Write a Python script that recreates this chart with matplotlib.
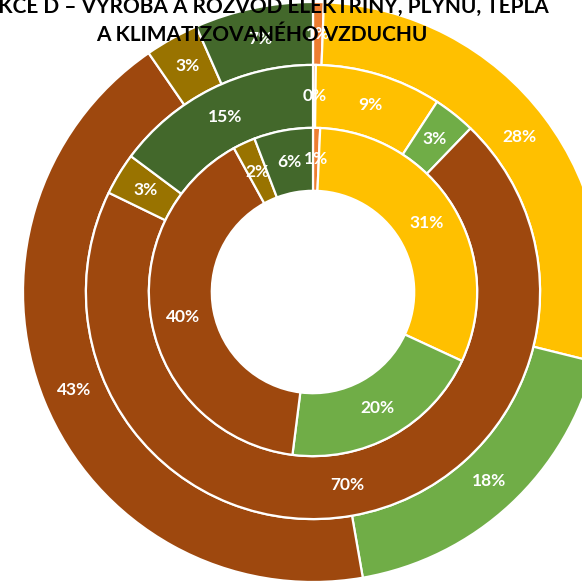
import matplotlib.pyplot as plt
import numpy as np

# categories (same order in every ring, clockwise from 12 o'clock)
categories = ['oranžová', 'žlutá', 'zelená', 'hnědá', 'olivová', 'tmavě zelená']
colors = ['#ED7D31', '#FFC000', '#70AD47', '#9E480E', '#997300', '#43682B']

# share in %, outer -> inner ring
outer_vals = [0.6, 28.3, 18.4, 43.2, 3.0, 6.6]
middle_vals = [0.2, 9.0, 3.0, 70.0, 3.0, 14.8]
inner_vals = [0.7, 31.2, 20.1, 40.0, 2.2, 5.8]

title_lines = ['SEKCE D – VÝROBA A ROZVOD ELEKTŘINY, PLYNU, TEPLA',
               'A KLIMATIZOVANÉHO VZDUCHU']

fig = plt.figure(figsize=(5.82, 5.85), dpi=100)
ax = fig.add_axes([0, 0, 1, 1])

ring_w = 0.217
rings = [(outer_vals, 1.0), (middle_vals, 0.783), (inner_vals, 0.566)]

for vals, r in rings:
    wedges, _ = ax.pie(vals, radius=r, colors=colors, startangle=90,
                       counterclock=False,
                       wedgeprops=dict(width=ring_w, edgecolor='white', linewidth=1.6))
    # percentage labels in the middle of the ring
    total = sum(vals)
    for w, v in zip(wedges, vals):
        ang = np.deg2rad((w.theta1 + w.theta2) / 2)
        rm = r - ring_w / 2
        ax.text(rm * np.cos(ang), rm * np.sin(ang), f'{v / total * 100:.0f}%',
                ha='center', va='center', color='white', fontsize=12.5,
                fontweight='bold', family=['Lato', 'DejaVu Sans'], zorder=5)

# the reference is a crop of a larger chart
ax.set_aspect('auto')
ax.set_xlim(-313 / 290, (582 - 313) / 290)
ax.set_ylim(-(585 - 292) / 290, 292 / 290)
ax.axis('off')

fig.text(262 / 582, 1 - 13 / 585, title_lines[0], ha='center', va='baseline',
         fontsize=15, fontweight='bold', family=['Lato', 'DejaVu Sans'], zorder=10)
fig.text(262 / 582, 1 - 41 / 585, title_lines[1], ha='center', va='baseline',
         fontsize=15, fontweight='bold', family=['Lato', 'DejaVu Sans'], zorder=10)

fig.savefig('out.png', dpi=100)
